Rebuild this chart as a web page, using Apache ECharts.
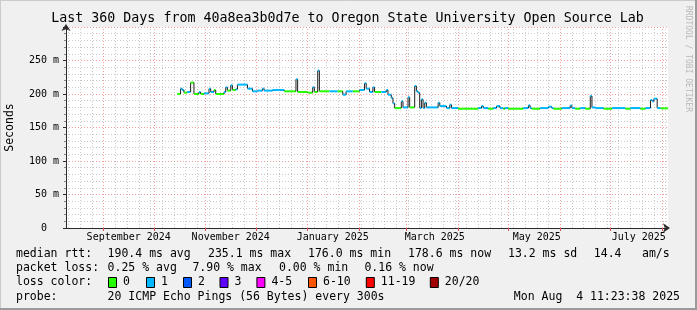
<!DOCTYPE html>
<html><head><meta charset="utf-8">
<script src="https://cdn.jsdelivr.net/npm/echarts@6/dist/echarts.min.js"></script>
<style>html,body{margin:0;padding:0;background:#f0f0f0}#c{width:697px;height:310px}</style>
</head><body><div id="c"></div>
<script>
const chartTitle = 'Last 360 Days from 40a8ea3b0d7e to Oregon State University Open Source Lab';
const yAxisName = 'Seconds';
const rangeStart = '2024-08-09T11:23:38';
const rangeEnd = '2025-08-04T11:23:38';

// consolidated median RTT steps (start date, median ms, lost pings of 20)
const stepStart = [
 '2024-10-15','2024-10-17','2024-10-18','2024-10-19','2024-10-21','2024-10-23','2024-10-25','2024-10-28','2024-10-29','2024-10-31',
 '2024-11-03','2024-11-04','2024-11-06','2024-11-07','2024-11-12','2024-11-13','2024-11-14','2024-11-16','2024-11-17','2024-11-19',
 '2024-11-20','2024-11-26','2024-11-29','2024-12-02','2024-12-05','2024-12-06','2024-12-11','2024-12-18','2024-12-25','2024-12-26',
 '2025-01-01','2025-01-04','2025-01-05','2025-01-07','2025-01-08','2025-01-14','2025-01-19','2025-01-22','2025-01-24','2025-01-28',
 '2025-02-01','2025-02-04','2025-02-05','2025-02-07','2025-02-09','2025-02-10','2025-02-14','2025-02-17','2025-02-18','2025-02-20',
 '2025-02-21','2025-02-22','2025-02-26','2025-02-27','2025-03-02','2025-03-03','2025-03-06','2025-03-07','2025-03-08','2025-03-09',
 '2025-03-10','2025-03-11','2025-03-12','2025-03-13','2025-03-20','2025-03-21','2025-03-25','2025-03-27','2025-03-28','2025-04-01',
 '2025-04-13','2025-04-15','2025-04-16','2025-04-19','2025-04-22','2025-04-24','2025-04-26','2025-04-28','2025-04-29','2025-05-01',
 '2025-05-10','2025-05-13','2025-05-14','2025-05-15','2025-05-20','2025-05-25','2025-05-27','2025-05-28','2025-06-02','2025-06-07',
 '2025-06-08','2025-06-10','2025-06-13','2025-06-16','2025-06-19','2025-06-20','2025-06-22','2025-06-27','2025-07-02','2025-07-10',
 '2025-07-13','2025-07-19','2025-07-22','2025-07-25','2025-07-26','2025-07-27','2025-07-29','2025-07-31'
];
const medianMs = [
 200,208,206,202,203,217,200,203,200,201,
 208,203,206,200,203,210,205,213,206,207,
 214,208,204,205,208,205,206,204,222,203,
 202,210,203,235,204,204,204,199,204,204,
 206,216,208,203,210,203,203,206,199,194,
 186,179,189,180,195,180,212,204,202,179,
 192,179,187,180,187,182,179,184,179,178,
 179,182,179,178,179,182,179,178,179,178,
 179,183,179,178,179,181,179,178,179,183,
 179,178,179,178,197,180,179,178,179,178,
 179,178,179,191,189,193,179,178.6
];
const lossCount = [
 0,1,1,0,1,0,0,1,0,1,
 1,1,0,0,1,1,0,1,0,1,
 1,1,1,1,1,1,1,0,1,0,
 0,1,0,1,0,1,0,1,1,0,
 1,1,1,1,1,0,1,1,1,1,
 1,0,1,1,1,0,1,1,1,1,
 1,1,1,1,1,1,1,1,1,0,
 1,1,1,0,1,1,1,0,1,0,
 1,1,1,0,1,1,1,0,1,1,
 1,0,1,0,1,1,1,0,1,0,
 1,0,1,1,1,1,1,0
];

const xLabelDates = ['2024-09-16','2024-11-16','2025-01-16','2025-03-18','2025-05-18','2025-07-18'];
const xLabels = ['September 2024','November 2024','January 2025','March 2025','May 2025','July 2025'];
const yMin = 0, yMax = 300, yStep = 50;

const lossBins = ['0','1','2','3','4-5','6-10','11-19','20/20'];
const lossColors = ['#26ff00','#00b8ff','#0059ff','#5e00ff','#ff00ff','#ff5500','#ff0000','#a10000'];

const statsRtt = [['median rtt:',16],['190.4 ms avg',107.6],['235.1 ms max',208],['176.0 ms min',308],['178.6 ms now',408],['13.2 ms sd',508],['14.4',593.8],['am/s',642]];
const statsLoss = [['packet loss:',16],['0.25 % avg',107.6],['7.90 % max',192.4],['0.00 % min',279],['0.16 % now',364.4]];
const probeText = '20 ICMP Echo Pings (56 Bytes) every 300s';
const stampText = 'Mon Aug  4 11:23:38 2025';

function ts(s){ return new Date(s.length === 10 ? s + 'T00:00:00' : s).getTime(); }
function lossIdx(l){ if(l<=3) return l; if(l<=5) return 4; if(l<=10) return 5; if(l<=19) return 6; return 7; }

const t0 = ts(rangeStart), t1 = ts(rangeEnd);
const monthStarts = [];
for (let d = new Date(2024, 8, 1); d.getTime() <= t1; d = new Date(d.getFullYear(), d.getMonth()+1, 1)) monthStarts.push(d.getTime());
const weeks = [];
for (let d = new Date(2024, 7, 11); d.getTime() <= t1; d = new Date(d.getFullYear(), d.getMonth(), d.getDate()+7)) {
  if (d.getDate() !== 1) weeks.push(d.getTime());
}
const labelTs = xLabelDates.map(ts);

const stepData = stepStart.map((s,i)=>[ts(s), i+1<stepStart.length ? ts(stepStart[i+1]) : t1, medianMs[i], lossCount[i], i>0 ? medianMs[i-1] : medianMs[i]]);

const MONO = '"DejaVu Sans Mono", monospace';
const majorCol = 'rgba(235,90,90,0.6)';
const minorCol = 'rgba(150,150,150,0.5)';

const graphics = [];
graphics.push({type:'text', x:347.5, y:19, style:{text:chartTitle, font:'13.3px '+MONO, fill:'#000', textAlign:'center', textVerticalAlign:'middle'}});
graphics.push({type:'text', x:10, y:127.5, rotation:Math.PI/2, style:{text:yAxisName, font:'11.5px '+MONO, fill:'#000', textAlign:'center', textVerticalAlign:'middle'}});
graphics.push({type:'text', x:688, y:59, rotation:-Math.PI/2, style:{text:'RRDTOOL / TOBI OETIKER', font:'8px '+MONO, fill:'#b8b8b8', textAlign:'center', textVerticalAlign:'middle'}});
const LF = '11.5px ' + MONO;
statsRtt.forEach(([t,x])=>graphics.push({type:'text', x:x, y:254, style:{text:t, font:LF, fill:'#000', textVerticalAlign:'middle'}}));
statsLoss.forEach(([t,x])=>graphics.push({type:'text', x:x, y:268, style:{text:t, font:LF, fill:'#000', textVerticalAlign:'middle'}}));
graphics.push({type:'text', x:16, y:282.5, style:{text:'loss color:', font:LF, fill:'#000', textVerticalAlign:'middle'}});
const swX = [108,146,183,219.5,256.4,308,365.8,429.8];
lossBins.forEach((b,i)=>{
  graphics.push({type:'rect', shape:{x:swX[i]+0.5, y:277.5, width:8, height:10}, style:{fill:lossColors[i], stroke:'#000', lineWidth:1}});
  graphics.push({type:'text', x:swX[i]+15, y:282.5, style:{text:b, font:LF, fill:'#000', textVerticalAlign:'middle'}});
});
graphics.push({type:'text', x:16, y:297, style:{text:'probe:', font:LF, fill:'#000', textVerticalAlign:'middle'}});
graphics.push({type:'text', x:107.6, y:297, style:{text:probeText, font:LF, fill:'#000', textVerticalAlign:'middle'}});
graphics.push({type:'text', x:680, y:297, style:{text:stampText, font:LF, fill:'#000', textAlign:'right', textVerticalAlign:'middle'}});
graphics.push({type:'line', shape:{x1:0,y1:0.5,x2:697,y2:0.5}, style:{stroke:'#cbcbcb', lineWidth:1}});
graphics.push({type:'line', shape:{x1:0.5,y1:0,x2:0.5,y2:310}, style:{stroke:'#cbcbcb', lineWidth:1}});
graphics.push({type:'line', shape:{x1:0,y1:309,x2:697,y2:309}, style:{stroke:'#9a9a9a', lineWidth:2}});
graphics.push({type:'line', shape:{x1:696,y1:0,x2:696,y2:310}, style:{stroke:'#9a9a9a', lineWidth:2}});

const vLines = weeks.map(t=>({xAxis:t, lineStyle:{color:minorCol, type:[1,2], width:1}}))
  .concat(monthStarts.map(t=>({xAxis:t, lineStyle:{color:majorCol, type:[1,2], width:1}})));

const chart = echarts.init(document.getElementById('c'), null, {renderer:'canvas'});
chart.setOption({
  backgroundColor:'#f0f0f0',
  animation:false,
  textStyle:{fontFamily:MONO},
  grid:{left:66, right:29, top:27, bottom:82, show:true, backgroundColor:'#ffffff', borderWidth:0},
  xAxis:{
    type:'value', min:t0, max:t1, scale:true,
    axisLine:{show:true, lineStyle:{color:'#2c2c2c', width:1}, symbol:['none','arrow'], symbolSize:[7,7], symbolOffset:[0,2]},
    axisTick:{show:true, customValues:monthStarts, length:3, lineStyle:{color:'#e05050'}},
    axisLabel:{customValues:labelTs, fontFamily:MONO, fontSize:10, color:'#000', margin:4,
      formatter:function(v){ let best=0; for(let i=0;i<labelTs.length;i++){ if(Math.abs(labelTs[i]-v)<Math.abs(labelTs[best]-v)) best=i; } return xLabels[best]; }},
    splitLine:{show:false}
  },
  yAxis:{
    type:'value', min:yMin, max:yMax, interval:yStep,
    axisLine:{show:true, lineStyle:{color:'#2c2c2c', width:1}, symbol:['none','arrow'], symbolSize:[7,7], symbolOffset:[0,3]},
    axisTick:{show:true, length:3, lineStyle:{color:'#2c2c2c'}},
    minorTick:{show:true, splitNumber:5, length:2, lineStyle:{color:'#888'}},
    splitLine:{show:true, lineStyle:{color:majorCol, type:[1,2], width:1}},
    minorSplitLine:{show:true, lineStyle:{color:minorCol, type:[1,2], width:1}},
    axisLabel:{showMaxLabel:false, fontFamily:MONO, fontSize:10, color:'#000', margin:7,
      formatter:function(v){ return v===0 ? '0  ' : v + ' m'; }}
  },
  series:[
    {type:'line', data:[[t0,null]], showSymbol:false, silent:true, z:1,
     markLine:{silent:true, symbol:'none', z:1, animation:false, label:{show:false}, data:vLines}},
    {type:'custom', z:3, clip:true, data:stepData, encode:{x:[0,1], y:2},
     renderItem:function(params, api){
       const a = api.coord([api.value(0), api.value(2)]);
       const b = api.coord([api.value(1), api.value(2)]);
       const p = api.coord([api.value(0), api.value(4)]);
       const col = lossColors[lossIdx(api.value(3))];
       return {type:'group', children:[
         {type:'line', shape:{x1:a[0], y1:p[1], x2:a[0], y2:a[1]}, style:{stroke:'#1e1e1e', lineWidth:1}},
         {type:'line', shape:{x1:a[0], y1:a[1], x2:b[0], y2:b[1]}, style:{stroke:col, lineWidth:2}}
       ]};
     }}
  ],
  graphic:graphics
});
</script>
</body></html>
